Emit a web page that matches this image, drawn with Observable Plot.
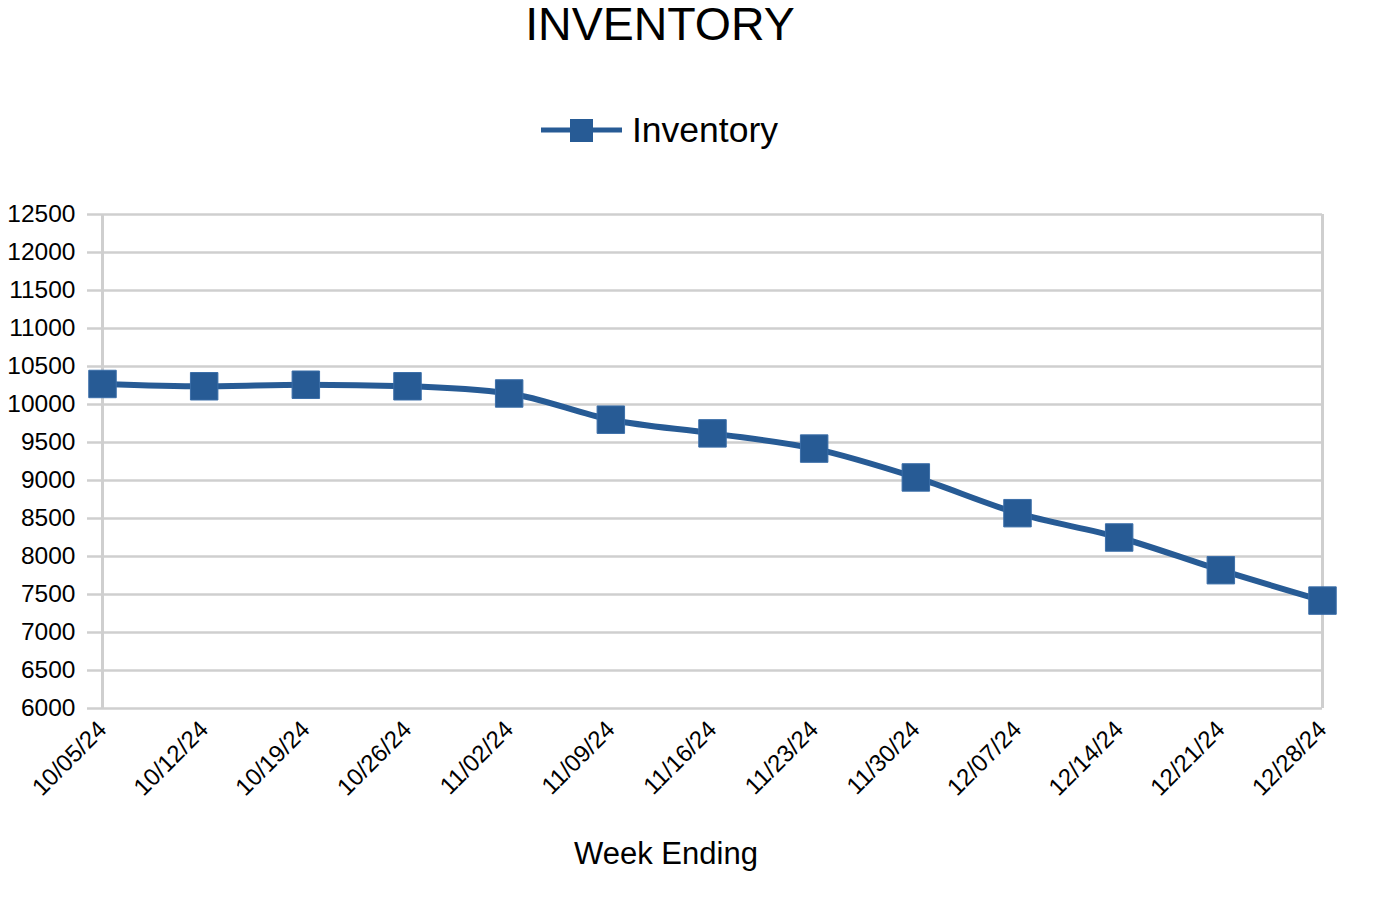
<!DOCTYPE html>
<html>
<head>
<meta charset="utf-8">
<script src="https://cdn.jsdelivr.net/npm/d3@7"></script>
<script src="https://cdn.jsdelivr.net/npm/@observablehq/plot@0.6"></script>
<style>
  html, body { margin: 0; padding: 0; background: #fff; }
  body { width: 1380px; height: 900px; position: relative; overflow: hidden; font-family: "Liberation Sans", Arial, sans-serif; color: #000; }
  #title { position: absolute; left: 0; width: 1320px; top: 0px; text-align: center; font-size: 46.5px; line-height: 44px; padding-top: 2px; }
  #legend { position: absolute; left: 541px; top: 108px; display: flex; align-items: center; font-size: 35.5px; height: 44px; }
  #legend svg { margin-right: 10px; }
  #chart { position: absolute; left: 0; top: 180px; }
  #xlabel { position: absolute; left: 0; width: 1332px; top: 835px; text-align: center; font-size: 31px; line-height: 38px; }
</style>
</head>
<body>
<div id="title">INVENTORY</div>
<div id="legend"><svg width="81" height="30"><line x1="0" x2="81" y1="15" y2="15" stroke="#275b95" stroke-width="5"/><rect x="29" y="4" width="23" height="23" fill="#275b95"/></svg><span>Inventory</span></div>
<div id="chart"></div>
<div id="xlabel">Week Ending</div>
<script>
const weeks = ["10/05/24","10/12/24","10/19/24","10/26/24","11/02/24","11/09/24","11/16/24","11/23/24","11/30/24","12/07/24","12/14/24","12/21/24","12/28/24"];
const inventory = [10270, 10240, 10260, 10240, 10145, 9800, 9620, 9420, 9040, 8570, 8250, 7820, 7420];
const yTicks = [6000,6500,7000,7500,8000,8500,9000,9500,10000,10500,11000,11500,12000,12500];

const data = weeks.map((w, i) => ({week: w, value: inventory[i]}));
const color = "#275b95";

const chart = Plot.plot({
  width: 1380,
  height: 720,
  marginLeft: 102,
  marginRight: 58,
  marginTop: 34,
  marginBottom: 192,
  style: {fontFamily: "Liberation Sans, Arial, sans-serif", background: "#fff", color: "#000"},
  x: {type: "point", domain: weeks, padding: 0, round: false, label: null},
  y: {domain: [6000, 12500], label: null},
  marks: [
    Plot.ruleY(yTicks, {stroke: "#cfcfcf", strokeWidth: 2.5}),
    Plot.axisY({ticks: yTicks, tickSize: 15, stroke: "#cfcfcf", strokeWidth: 2.5, strokeOpacity: 1, tickPadding: 12, fontSize: 24.5, fill: "#000", tickFormat: d => String(d)}),
    Plot.ruleX([weeks[0], weeks[weeks.length - 1]], {y1: 6000, y2: 12500, stroke: "#cfcfcf", strokeWidth: 3}),
    Plot.axisX({tickSize: 0, tickRotate: -45, tickPadding: 17, fontSize: 24, fill: "#000"}),
    Plot.line(data, {x: "week", y: "value", stroke: color, strokeWidth: 6, curve: "monotone-x"}),
    Plot.dot(data, {x: "week", y: "value", symbol: "square", r: 15.5, fill: color, stroke: "#3b6ea8", strokeWidth: 1})
  ]
});
document.getElementById("chart").appendChild(chart);
</script>
</body>
</html>
